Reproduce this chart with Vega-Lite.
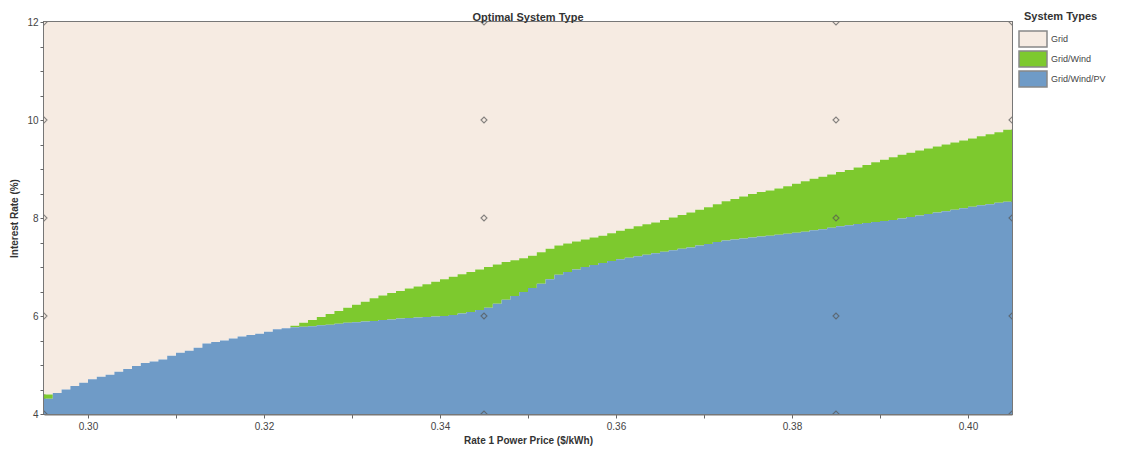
{
  "$schema": "https://vega.github.io/schema/vega-lite/v6.json",
  "width": 968,
  "height": 392,
  "autosize": {"type": "none"},
  "padding": {"left": 44, "top": 22, "right": 116, "bottom": 36},
  "background": "white",
  "title": {"text": "Optimal System Type", "font": "Liberation Sans", "fontSize": 11, "fontWeight": "bold", "color": "#333", "anchor": "middle", "offset": -12},
  "config": {
    "view": {"stroke": "#777", "strokeWidth": 2},
    "axis": {"grid": false, "domainColor": "#777", "domainWidth": 2, "tickColor": "#666", "tickSize": 4, "labelFont": "Liberation Sans", "labelFontSize": 10, "labelColor": "#444", "titleFont": "Liberation Sans", "titleFontSize": 10, "titleFontWeight": "bold", "titleColor": "#333"}
  },
  "datasets": {
    "bounds": [
      {"p":0.295,"b":4.31,"g":4.40},{"p":0.296,"b":4.43,"g":4.43},{"p":0.297,"b":4.50,"g":4.50},{"p":0.298,"b":4.57,"g":4.57},{"p":0.299,"b":4.64,"g":4.64},
      {"p":0.300,"b":4.71,"g":4.71},{"p":0.301,"b":4.76,"g":4.76},{"p":0.302,"b":4.80,"g":4.80},{"p":0.303,"b":4.86,"g":4.86},{"p":0.304,"b":4.92,"g":4.92},
      {"p":0.305,"b":4.98,"g":4.98},{"p":0.306,"b":5.04,"g":5.04},{"p":0.307,"b":5.07,"g":5.07},{"p":0.308,"b":5.11,"g":5.11},{"p":0.309,"b":5.19,"g":5.19},
      {"p":0.310,"b":5.25,"g":5.25},{"p":0.311,"b":5.29,"g":5.29},{"p":0.312,"b":5.35,"g":5.35},{"p":0.313,"b":5.44,"g":5.44},{"p":0.314,"b":5.47,"g":5.47},
      {"p":0.315,"b":5.50,"g":5.50},{"p":0.316,"b":5.54,"g":5.54},{"p":0.317,"b":5.58,"g":5.58},{"p":0.318,"b":5.61,"g":5.61},{"p":0.319,"b":5.64,"g":5.64},
      {"p":0.320,"b":5.68,"g":5.68},{"p":0.321,"b":5.73,"g":5.73},{"p":0.322,"b":5.75,"g":5.75},{"p":0.323,"b":5.77,"g":5.80},{"p":0.324,"b":5.78,"g":5.86},
      {"p":0.325,"b":5.79,"g":5.92},{"p":0.326,"b":5.81,"g":5.98},{"p":0.327,"b":5.82,"g":6.04},{"p":0.328,"b":5.84,"g":6.10},{"p":0.329,"b":5.86,"g":6.17},
      {"p":0.330,"b":5.87,"g":6.23},{"p":0.331,"b":5.89,"g":6.29},{"p":0.332,"b":5.90,"g":6.36},{"p":0.333,"b":5.92,"g":6.42},{"p":0.334,"b":5.93,"g":6.47},
      {"p":0.335,"b":5.95,"g":6.51},{"p":0.336,"b":5.96,"g":6.56},{"p":0.337,"b":5.97,"g":6.60},{"p":0.338,"b":5.98,"g":6.65},{"p":0.339,"b":5.99,"g":6.70},
      {"p":0.340,"b":6.00,"g":6.75},{"p":0.341,"b":6.02,"g":6.80},{"p":0.342,"b":6.05,"g":6.85},{"p":0.343,"b":6.08,"g":6.90},{"p":0.344,"b":6.12,"g":6.95},
      {"p":0.345,"b":6.17,"g":7.00},{"p":0.346,"b":6.25,"g":7.05},{"p":0.347,"b":6.33,"g":7.10},{"p":0.348,"b":6.41,"g":7.14},{"p":0.349,"b":6.49,"g":7.18},
      {"p":0.350,"b":6.57,"g":7.23},{"p":0.351,"b":6.66,"g":7.30},{"p":0.352,"b":6.75,"g":7.37},{"p":0.353,"b":6.84,"g":7.44},{"p":0.354,"b":6.90,"g":7.48},
      {"p":0.355,"b":6.95,"g":7.52},{"p":0.356,"b":7.00,"g":7.56},{"p":0.357,"b":7.04,"g":7.60},{"p":0.358,"b":7.08,"g":7.64},{"p":0.359,"b":7.12,"g":7.69},
      {"p":0.360,"b":7.16,"g":7.74},{"p":0.361,"b":7.19,"g":7.78},{"p":0.362,"b":7.22,"g":7.83},{"p":0.363,"b":7.25,"g":7.87},{"p":0.364,"b":7.28,"g":7.91},
      {"p":0.365,"b":7.31,"g":7.96},{"p":0.366,"b":7.34,"g":8.01},{"p":0.367,"b":7.37,"g":8.06},{"p":0.368,"b":7.40,"g":8.11},{"p":0.369,"b":7.44,"g":8.17},
      {"p":0.370,"b":7.47,"g":8.22},{"p":0.371,"b":7.51,"g":8.28},{"p":0.372,"b":7.54,"g":8.34},{"p":0.373,"b":7.56,"g":8.39},{"p":0.374,"b":7.58,"g":8.44},
      {"p":0.375,"b":7.60,"g":8.49},{"p":0.376,"b":7.62,"g":8.53},{"p":0.377,"b":7.64,"g":8.56},{"p":0.378,"b":7.66,"g":8.60},{"p":0.379,"b":7.68,"g":8.65},
      {"p":0.380,"b":7.70,"g":8.70},{"p":0.381,"b":7.72,"g":8.75},{"p":0.382,"b":7.75,"g":8.80},{"p":0.383,"b":7.77,"g":8.84},{"p":0.384,"b":7.80,"g":8.89},
      {"p":0.385,"b":7.83,"g":8.94},{"p":0.386,"b":7.85,"g":8.98},{"p":0.387,"b":7.88,"g":9.03},{"p":0.388,"b":7.90,"g":9.08},{"p":0.389,"b":7.92,"g":9.14},
      {"p":0.390,"b":7.94,"g":9.19},{"p":0.391,"b":7.96,"g":9.24},{"p":0.392,"b":7.99,"g":9.29},{"p":0.393,"b":8.02,"g":9.33},{"p":0.394,"b":8.05,"g":9.38},
      {"p":0.395,"b":8.08,"g":9.42},{"p":0.396,"b":8.11,"g":9.46},{"p":0.397,"b":8.14,"g":9.50},{"p":0.398,"b":8.17,"g":9.54},{"p":0.399,"b":8.20,"g":9.58},
      {"p":0.400,"b":8.23,"g":9.62},{"p":0.401,"b":8.26,"g":9.67},{"p":0.402,"b":8.28,"g":9.71},{"p":0.403,"b":8.31,"g":9.75},{"p":0.404,"b":8.33,"g":9.80},
      {"p":0.405,"b":8.35,"g":9.86}
    ],
    "points": [
      {"p":0.295,"r":4},{"p":0.295,"r":6},{"p":0.295,"r":8},{"p":0.295,"r":10},{"p":0.295,"r":12},
      {"p":0.345,"r":4},{"p":0.345,"r":6},{"p":0.345,"r":8},{"p":0.345,"r":10},{"p":0.345,"r":12},
      {"p":0.385,"r":4},{"p":0.385,"r":6},{"p":0.385,"r":8},{"p":0.385,"r":10},{"p":0.385,"r":12},
      {"p":0.405,"r":4},{"p":0.405,"r":6},{"p":0.405,"r":8},{"p":0.405,"r":10},{"p":0.405,"r":12}
    ]
  },
  "encoding": {
    "x": {"type": "quantitative", "scale": {"domain": [0.295, 0.405], "nice": false, "zero": false},
      "axis": {"title": "Rate 1 Power Price ($/kWh)", "values": [0.30,0.31,0.32,0.33,0.34,0.35,0.36,0.37,0.38,0.39,0.40],
        "labelExpr": "round(datum.value*100) % 2 == 0 ? format(datum.value, '.2f') : ''", "labelPadding": 3, "titlePadding": 4}},
    "y": {"type": "quantitative", "scale": {"domain": [4, 12], "nice": false, "zero": false},
      "axis": {"title": "Interest Rate (%)", "values": [4,4.5,5,5.5,6,6.5,7,7.5,8,8.5,9,9.5,10,10.5,11,11.5,12],
        "labelExpr": "datum.value % 2 == 0 ? format(datum.value, 'd') : ''", "labelPadding": 2, "titlePadding": 7}}
  },
  "layer": [
    {
      "data": {"name": "bounds"},
      "mark": {"type": "area", "interpolate": "step-after", "clip": true},
      "encoding": {
        "x": {"field": "p", "type": "quantitative"},
        "y": {"field": "g", "type": "quantitative"},
        "y2": {"datum": 12},
        "color": {"datum": "Grid", "type": "nominal",
          "scale": {"domain": ["Grid", "Grid/Wind", "Grid/Wind/PV"], "range": ["#F6EBE2", "#7DC92E", "#6F9BC7"]},
          "legend": {"title": "System Types", "orient": "none", "legendX": 980, "legendY": -11,
            "titleFont": "Liberation Sans", "titleFontSize": 11, "titleFontWeight": "bold", "titleColor": "#333", "titlePadding": 8,
            "labelFont": "Liberation Sans", "labelFontSize": 9, "labelColor": "#444", "labelOffset": 9,
            "symbolType": "M-1.75,-1H1.75V1H-1.75Z", "symbolSize": 256, "symbolStrokeColor": "#888", "symbolStrokeWidth": 1.5,
            "symbolOpacity": 1, "rowPadding": -2}}
      }
    },
    {
      "data": {"name": "bounds"},
      "mark": {"type": "area", "interpolate": "step-after", "clip": true},
      "encoding": {
        "x": {"field": "p", "type": "quantitative"},
        "y": {"field": "g", "type": "quantitative"},
        "y2": {"field": "b"},
        "color": {"datum": "Grid/Wind", "type": "nominal"}
      }
    },
    {
      "data": {"name": "bounds"},
      "mark": {"type": "area", "interpolate": "step-after", "clip": true},
      "encoding": {
        "x": {"field": "p", "type": "quantitative"},
        "y": {"field": "b", "type": "quantitative"},
        "y2": {"datum": 4},
        "color": {"datum": "Grid/Wind/PV", "type": "nominal"}
      }
    },
    {
      "data": {"name": "points"},
      "mark": {"type": "point", "shape": "diamond", "filled": false, "size": 36, "stroke": "#555", "strokeWidth": 1.1, "clip": true},
      "encoding": {
        "x": {"field": "p", "type": "quantitative"},
        "y": {"field": "r", "type": "quantitative"}
      }
    }
  ]
}
